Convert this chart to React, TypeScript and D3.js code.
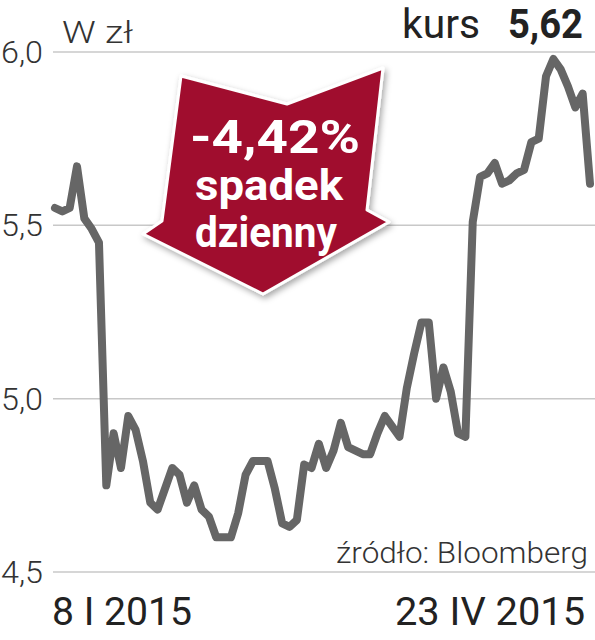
import React from "react";
import * as d3 from "d3";

const W = 595;
const H = 640;

const yTicks = [4.5, 5.0, 5.5, 6.0];
const yTickLabels = ["4,5", "5,0", "5,5", "6,0"];
const dateLabels = ["8 I 2015", "23 IV 2015"];
const unitLabel = "W zł";
const kursLabel = "kurs";
const kursValue = "5,62";
const sourceLabel = "źródło: Bloomberg";
const badgeLines = ["-4,42%", "spadek", "dzienny"];

// closing prices, trading days 8 I 2015 .. 23 IV 2015
const prices = [
  5.55, 5.54, 5.55, 5.67, 5.52, 5.49, 5.45, 4.75, 4.9, 4.8,
  4.95, 4.91, 4.82, 4.7, 4.68, 4.74, 4.8, 4.78, 4.7, 4.75,
  4.68, 4.66, 4.6, 4.6, 4.6, 4.67, 4.78, 4.82, 4.82, 4.82,
  4.74, 4.64, 4.63, 4.65, 4.81, 4.8, 4.87, 4.8, 4.85, 4.93,
  4.86, 4.85, 4.84, 4.84, 4.9, 4.95, 4.92, 4.89, 5.03, 5.13,
  5.22, 5.22, 5.0, 5.09, 5.02, 4.9, 4.89, 5.51, 5.64, 5.65,
  5.68, 5.62, 5.63, 5.65, 5.66, 5.74, 5.75, 5.93, 5.98, 5.95,
  5.9, 5.84, 5.88, 5.62,
];

const LABEL_FONT = "Roboto, 'Liberation Sans', sans-serif";

export default function App() {
  const x = d3.scaleLinear().domain([0, prices.length - 1]).range([55, 590]);
  const y = d3.scaleLinear().domain([4.5, 6.0]).range([572, 52]);
  const line = d3
    .line<number>()
    .x((_, i) => x(i))
    .y((d) => y(d))
    .curve(d3.curveLinear);

  const arrow =
    "M181,76 L287,104 L383,68 L367,210 L389,222 L263,294 L143,234 L162,221 Z";

  return (
    <svg
      width={W}
      height={H}
      viewBox={`0 0 ${W} ${H}`}
      style={{ position: "absolute", left: 0, top: 0, display: "block", background: "#fff" }}
    >
      <defs>
        <filter id="sh" x="-20%" y="-20%" width="140%" height="140%">
          <feDropShadow dx="2" dy="3" stdDeviation="3" floodColor="#000" floodOpacity="0.35" />
        </filter>
      </defs>
      <rect width={W} height={H} fill="#fff" />
      {yTicks.map((t, i) => (
        <g key={t}>
          <line x1={53} x2={595} y1={y(t)} y2={y(t)} stroke="#c8c8c8" strokeWidth={1.5} />
          <text
            x={1}
            y={y(t) + 11}
            fontFamily={LABEL_FONT}
            fontWeight={300}
            fontSize={31}
            fill="#333"
            textLength={42}
            lengthAdjust="spacingAndGlyphs"
          >
            {yTickLabels[i]}
          </text>
        </g>
      ))}
      <text x={62} y={43} fontFamily={LABEL_FONT} fontWeight={300} fontSize={31} fill="#333" textLength={71} lengthAdjust="spacingAndGlyphs">
        {unitLabel}
      </text>
      <text x={402} y={38} fontFamily={LABEL_FONT} fontWeight={400} fontSize={40} fill="#222" textLength={78} lengthAdjust="spacingAndGlyphs">
        {kursLabel}
      </text>
      <text x={508} y={38} fontFamily={LABEL_FONT} fontWeight={700} fontSize={40} fill="#222" textLength={75} lengthAdjust="spacingAndGlyphs">
        {kursValue}
      </text>

      <path
        d={line(prices) || ""}
        fill="none"
        stroke="#666"
        strokeWidth={8}
        strokeLinejoin="round"
        strokeLinecap="round"
      />

      <g filter="url(#sh)">
        <path d={arrow} fill="#a0102f" stroke="#fff" strokeWidth={3} strokeLinejoin="round" />
      </g>
      <text x={190} y={153} fontFamily={LABEL_FONT} fontWeight={700} fontSize={46} fill="#fff" textLength={170} lengthAdjust="spacingAndGlyphs">
        {badgeLines[0]}
      </text>
      <text x={195} y={200} fontFamily={LABEL_FONT} fontWeight={700} fontSize={42} fill="#fff" textLength={148} lengthAdjust="spacingAndGlyphs">
        {badgeLines[1]}
      </text>
      <text x={195} y={247} fontFamily={LABEL_FONT} fontWeight={700} fontSize={42} fill="#fff" textLength={142} lengthAdjust="spacingAndGlyphs">
        {badgeLines[2]}
      </text>

      <text x={336} y={563} fontFamily={LABEL_FONT} fontWeight={300} fontSize={30} fill="#333" textLength={252} lengthAdjust="spacingAndGlyphs">
        {sourceLabel}
      </text>
      <text x={52} y={625} fontFamily={LABEL_FONT} fontWeight={400} fontSize={38} fill="#222" textLength={140} lengthAdjust="spacingAndGlyphs">
        {dateLabels[0]}
      </text>
      <text x={585} y={625} textAnchor="end" fontFamily={LABEL_FONT} fontWeight={400} fontSize={38} fill="#222" textLength={190} lengthAdjust="spacingAndGlyphs">
        {dateLabels[1]}
      </text>
    </svg>
  );
}
